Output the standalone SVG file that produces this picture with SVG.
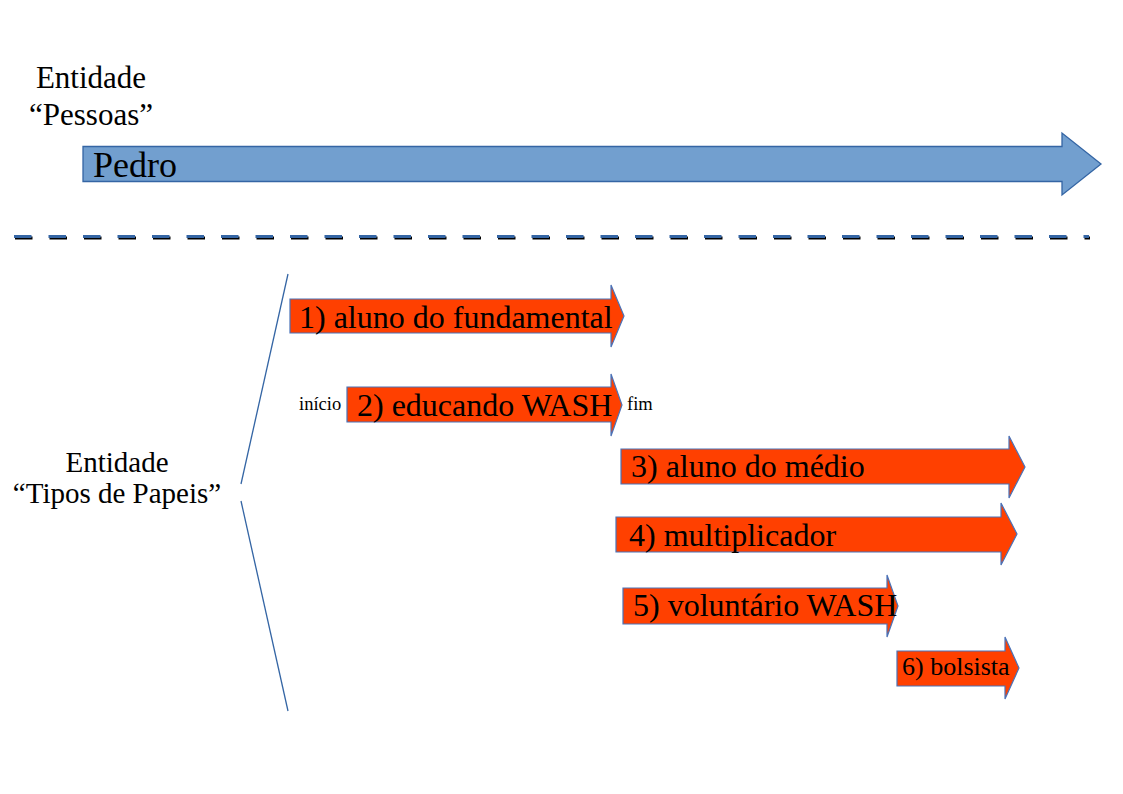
<svg xmlns="http://www.w3.org/2000/svg" width="1123" height="794" viewBox="0 0 1123 794">
<style>
.serif{font-family:"Liberation Serif","Times New Roman",serif;fill:#000}
.role{fill:#ff4000;stroke:#4a72b8;stroke-width:1.2}
.lbl{font-size:32px}
.brk{stroke:#3465a4;stroke-width:1.3;fill:none}
</style>
<rect width="1123" height="794" fill="#fff"/>
<g id="entity-pessoas">
<text class="serif" x="91" y="88" font-size="31" text-anchor="middle">Entidade</text>
<text class="serif" x="91" y="125" font-size="31" text-anchor="middle">“Pessoas”</text>
</g>
<g id="pedro">
<polygon points="83,146.5 1062,146.5 1062,133 1101,164 1062,195 1062,181.5 83,181.5" fill="#729fcf" stroke="#3465a4" stroke-width="1.3"/>
<text class="serif" x="93" y="177" font-size="36">Pedro</text>
</g>
<g id="separator">
<line x1="15" y1="238" x2="1090" y2="238" stroke="#000" stroke-width="3" stroke-dasharray="17.5 17"/>
<line x1="14" y1="236.5" x2="1089" y2="236.5" stroke="#3465a4" stroke-width="3" stroke-dasharray="17.5 17"/>
</g>
<g id="entity-papeis">
<text class="serif" x="117" y="472" font-size="29" text-anchor="middle">Entidade</text>
<text class="serif" x="117" y="503" font-size="29" text-anchor="middle">“Tipos de Papeis”</text>
</g>
<g id="connectors">
<line class="brk" x1="288" y1="274" x2="241" y2="484"/>
<line class="brk" x1="241" y1="501" x2="288" y2="711"/>
</g>
<g id="role1">
<polygon class="role" points="290,299 611,299 611,285 624,316 611,347 611,333 290,333"/>
<text class="serif lbl" x="299" y="328">1) aluno do fundamental</text>
</g>
<g id="role2">
<polygon class="role" points="347,387 611,387 611,374 622,405 611,436 611,422 347,422"/>
<text class="serif lbl" x="357" y="416">2) educando WASH</text>
<text class="serif" x="299" y="410" font-size="18.5">início</text>
<text class="serif" x="627" y="410" font-size="18.5">fim</text>
</g>
<g id="role3">
<polygon class="role" points="621,449 1009,449 1009,436 1025,467 1009,498 1009,484 621,484"/>
<text class="serif lbl" x="631" y="477">3) aluno do médio</text>
</g>
<g id="role4">
<polygon class="role" points="616,517 1001,517 1001,503 1017,534 1001,565 1001,552 616,552"/>
<text class="serif lbl" x="629" y="546">4) multiplicador</text>
</g>
<g id="role5">
<polygon class="role" points="623,588 887,588 887,575 898,606 887,637 887,624 623,624"/>
<text class="serif lbl" x="633" y="616">5) voluntário WASH</text>
</g>
<g id="role6">
<polygon class="role" points="897,651 1005,651 1005,637 1019,668 1005,699 1005,686 897,686"/>
<text class="serif" x="902" y="675" font-size="26">6) bolsista</text>
</g>
</svg>
